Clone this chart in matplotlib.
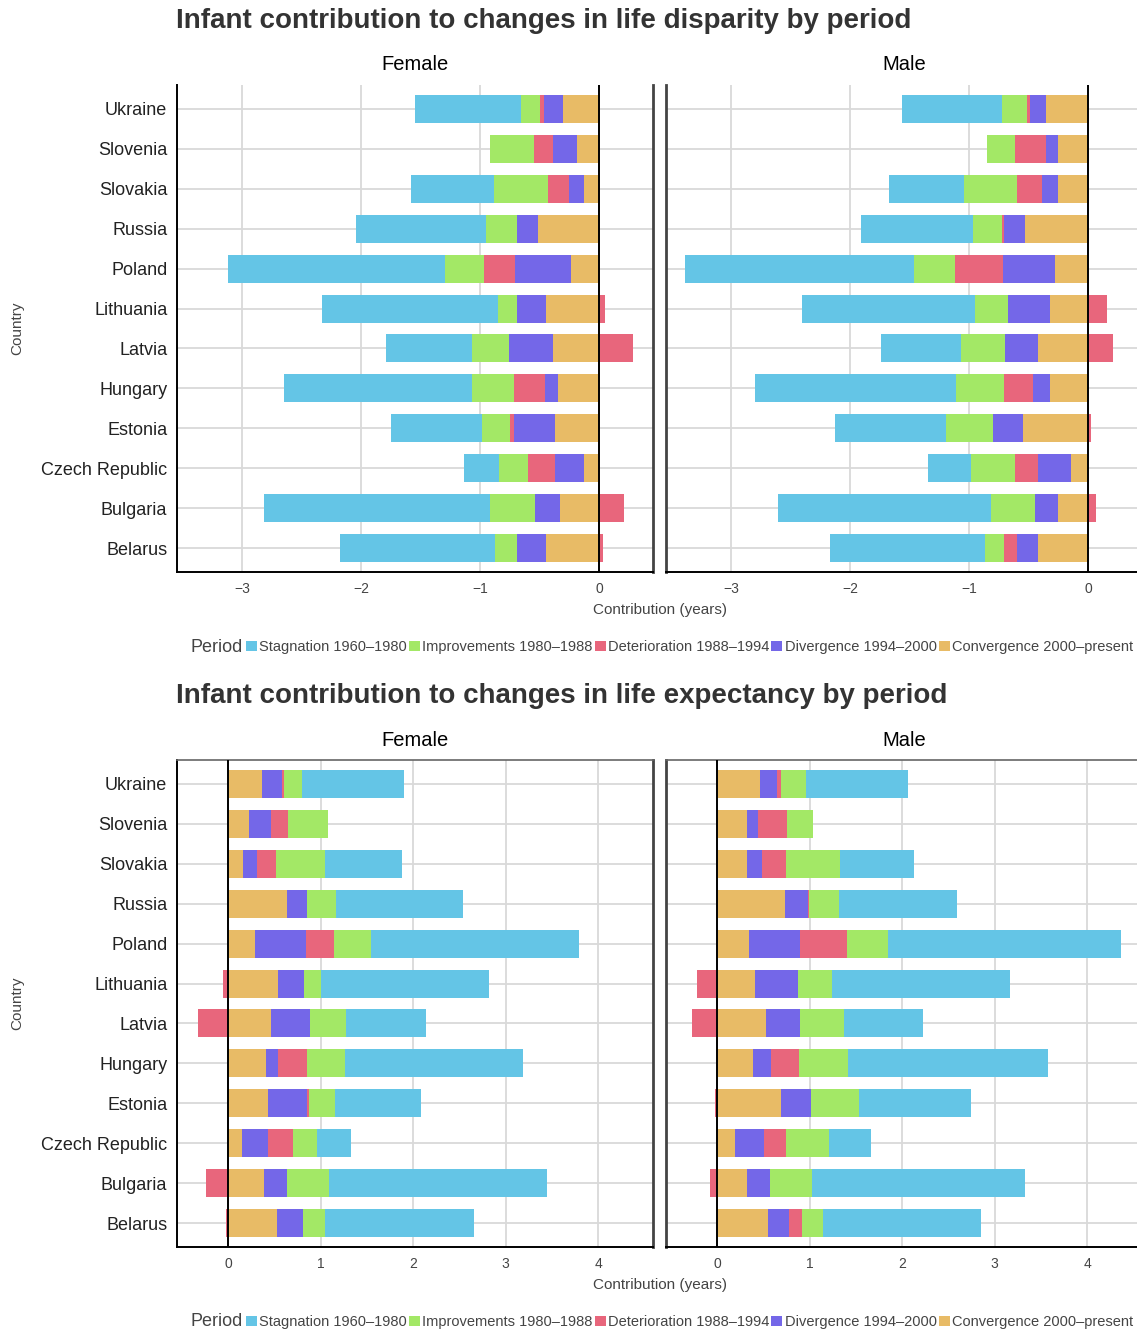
import matplotlib
matplotlib.use("Agg")
import matplotlib.pyplot as plt
from matplotlib.patches import Patch
import numpy as np

plt.rcParams['font.family'] = ['Liberation Sans', 'DejaVu Sans']

countries = ["Ukraine", "Slovenia", "Slovakia", "Russia", "Poland", "Lithuania",
             "Latvia", "Hungary", "Estonia", "Czech Republic", "Bulgaria", "Belarus"]
periods = ["Stagnation 1960\u20131980", "Improvements 1980\u20131988",
           "Deterioration 1988\u20131994", "Divergence 1994\u20132000",
           "Convergence 2000\u2013present"]
colors = ["#64C5E6", "#A3E866", "#E8667C", "#7467E8", "#E8BB66"]

# Life disparity, female
disp_f_stag = [-0.89, 0.00, -0.69, -1.10, -1.82, -1.48, -0.72, -1.58, -0.76, -0.30, -1.90, -1.30]
disp_f_impr = [-0.16, -0.37, -0.46, -0.26, -0.33, -0.16, -0.31, -0.35, -0.24, -0.24, -0.38, -0.19]
disp_f_dete = [-0.03, -0.16, -0.17, 0.00, -0.26, 0.05, 0.28, -0.26, -0.03, -0.23, 0.21, 0.03]
disp_f_dive = [-0.16, -0.20, -0.13, -0.17, -0.47, -0.24, -0.37, -0.11, -0.35, -0.24, -0.21, -0.24]
disp_f_conv = [-0.31, -0.19, -0.13, -0.52, -0.24, -0.45, -0.39, -0.35, -0.37, -0.13, -0.33, -0.45]
# Life disparity, male
disp_m_stag = [-0.84, 0.00, -0.63, -0.94, -1.92, -1.46, -0.67, -1.69, -0.93, -0.36, -1.79, -1.30]
disp_m_impr = [-0.21, -0.23, -0.45, -0.24, -0.35, -0.27, -0.37, -0.40, -0.40, -0.37, -0.37, -0.16]
disp_m_dete = [-0.03, -0.26, -0.21, -0.02, -0.40, 0.16, 0.21, -0.24, 0.02, -0.20, 0.06, -0.11]
disp_m_dive = [-0.13, -0.10, -0.13, -0.18, -0.44, -0.36, -0.28, -0.15, -0.25, -0.27, -0.19, -0.18]
disp_m_conv = [-0.36, -0.26, -0.26, -0.53, -0.28, -0.32, -0.42, -0.32, -0.55, -0.15, -0.26, -0.42]
# Life expectancy, female
expe_f_stag = [1.10, 0.00, 0.83, 1.37, 2.25, 1.82, 0.87, 1.93, 0.92, 0.37, 2.35, 1.61]
expe_f_impr = [0.19, 0.43, 0.53, 0.32, 0.40, 0.18, 0.38, 0.41, 0.28, 0.26, 0.45, 0.24]
expe_f_dete = [0.03, 0.19, 0.21, 0.00, 0.30, -0.05, -0.32, 0.31, 0.03, 0.27, -0.24, -0.02]
expe_f_dive = [0.21, 0.23, 0.15, 0.21, 0.55, 0.28, 0.43, 0.13, 0.42, 0.28, 0.25, 0.28]
expe_f_conv = [0.37, 0.23, 0.16, 0.64, 0.29, 0.54, 0.46, 0.41, 0.43, 0.15, 0.39, 0.53]
# Life expectancy, male
expe_m_stag = [1.10, 0.00, 0.80, 1.27, 2.51, 1.93, 0.86, 2.17, 1.21, 0.45, 2.30, 1.71]
expe_m_impr = [0.27, 0.28, 0.58, 0.33, 0.45, 0.36, 0.47, 0.52, 0.51, 0.46, 0.46, 0.22]
expe_m_dete = [0.04, 0.32, 0.26, 0.01, 0.50, -0.21, -0.27, 0.31, -0.02, 0.24, -0.07, 0.14]
expe_m_dive = [0.18, 0.12, 0.16, 0.25, 0.55, 0.47, 0.37, 0.19, 0.33, 0.32, 0.24, 0.23]
expe_m_conv = [0.47, 0.32, 0.33, 0.73, 0.35, 0.41, 0.53, 0.39, 0.69, 0.19, 0.33, 0.55]

disp_f = [disp_f_stag, disp_f_impr, disp_f_dete, disp_f_dive, disp_f_conv]
disp_m = [disp_m_stag, disp_m_impr, disp_m_dete, disp_m_dive, disp_m_conv]
expe_f = [expe_f_stag, expe_f_impr, expe_f_dete, expe_f_dive, expe_f_conv]
expe_m = [expe_m_stag, expe_m_impr, expe_m_dete, expe_m_dive, expe_m_conv]

W, H = 1137, 1331
fig = plt.figure(figsize=(W / 100, H / 100), dpi=100)

def fx(px):
    return px / W

def fy(py):
    return 1 - py / H

GRID = "#d9d9d9"
TXT = "#444444"

def draw_panel(ax, series, xlim, xticks, is_left, top_spine):
    y = np.arange(len(countries))
    pos = np.zeros(len(countries))
    neg = np.zeros(len(countries))
    # stack from zero outward: Convergence, Divergence, Deterioration, Improvements, Stagnation
    for k in [4, 3, 2, 1, 0]:
        vals = np.array(series[k], dtype=float)
        left = np.where(vals >= 0, pos, neg)
        ax.barh(y, vals, left=left, height=0.7, color=colors[k], linewidth=0, zorder=3)
        pos = pos + np.where(vals >= 0, vals, 0)
        neg = neg + np.where(vals < 0, vals, 0)
    ax.set_xlim(*xlim)
    ax.set_ylim(len(countries) - 0.4, -0.6)
    ax.set_xticks(xticks)
    ax.set_xticklabels([("\u2212%d" % -t) if t < 0 else "%d" % t for t in xticks])
    ax.set_yticks(y)
    if is_left:
        ax.set_yticklabels(countries, fontsize=13, color="#222222")
    else:
        ax.set_yticklabels([])
    ax.tick_params(axis="both", length=0)
    ax.tick_params(axis="x", labelsize=10, colors=TXT, pad=7)
    ax.tick_params(axis="y", pad=7)
    ax.grid(True, color=GRID, linewidth=1.3, zorder=0)
    ax.set_axisbelow(True)
    ax.axvline(0, color="black", linewidth=1.4, zorder=4)
    for s in ax.spines.values():
        s.set_linewidth(1.4)
    ax.spines["bottom"].set_color("black")
    if is_left:
        ax.spines["left"].set_color("black")
        ax.spines["right"].set_color("#444444")
        ax.spines["right"].set_linewidth(2)
    else:
        ax.spines["left"].set_color("#444444")
        ax.spines["left"].set_linewidth(2)
        ax.spines["right"].set_visible(False)
    if top_spine:
        ax.spines["top"].set_color("#666666")
        ax.spines["top"].set_linewidth(1.2)
    else:
        ax.spines["top"].set_visible(False)

def draw_chart(title, top, sf, sm, xlim, xticks, top_spine):
    pan_top = top + 85
    pan_bot = top + 572
    hgt = (pan_bot - pan_top) / H
    axf = fig.add_axes([fx(177), fy(pan_bot), fx(476), hgt])
    axm = fig.add_axes([fx(666), fy(pan_bot), fx(476), hgt])
    draw_panel(axf, sf, xlim, xticks, True, top_spine)
    draw_panel(axm, sm, xlim, xticks, False, top_spine)
    fig.text(fx(176), fy(top + 21), title, fontsize=20, fontweight="bold",
             color="#333333", ha="left", va="center",
             family=["Liberation Sans Narrow", "Liberation Sans"])
    fig.text(fx(415), fy(top + 65), "Female", fontsize=14.5, color="black", ha="center", va="center")
    fig.text(fx(904), fy(top + 65), "Male", fontsize=14.5, color="black", ha="center", va="center")
    fig.text(fx(660), fy(top + 610), "Contribution (years)", fontsize=11, color=TXT,
             ha="center", va="center")
    fig.text(fx(17), fy(top + 328), "Country", fontsize=11, color=TXT, rotation=90,
             ha="center", va="center")
    fig.text(fx(191), fy(top + 647), "Period", fontsize=13, color=TXT, ha="left", va="center")
    handles = [Patch(facecolor=c, edgecolor="none") for c in colors]
    fig.legend(handles, periods, loc="center left", bbox_to_anchor=(fx(246), fy(top + 647)),
               ncol=5, frameon=False, fontsize=10.5, handlelength=0.75, handleheight=0.75,
               handletextpad=0.15, columnspacing=0.15, borderpad=0, borderaxespad=0,
               labelcolor=TXT)

draw_chart("Infant contribution to changes in life disparity by period", 0,
           disp_f, disp_m, (-3.55, 0.45), [-3, -2, -1, 0], False)
draw_chart("Infant contribution to changes in life expectancy by period", 675,
           expe_f, expe_m, (-0.55, 4.59), [0, 1, 2, 3, 4], True)

fig.savefig("out.png", dpi=100)
